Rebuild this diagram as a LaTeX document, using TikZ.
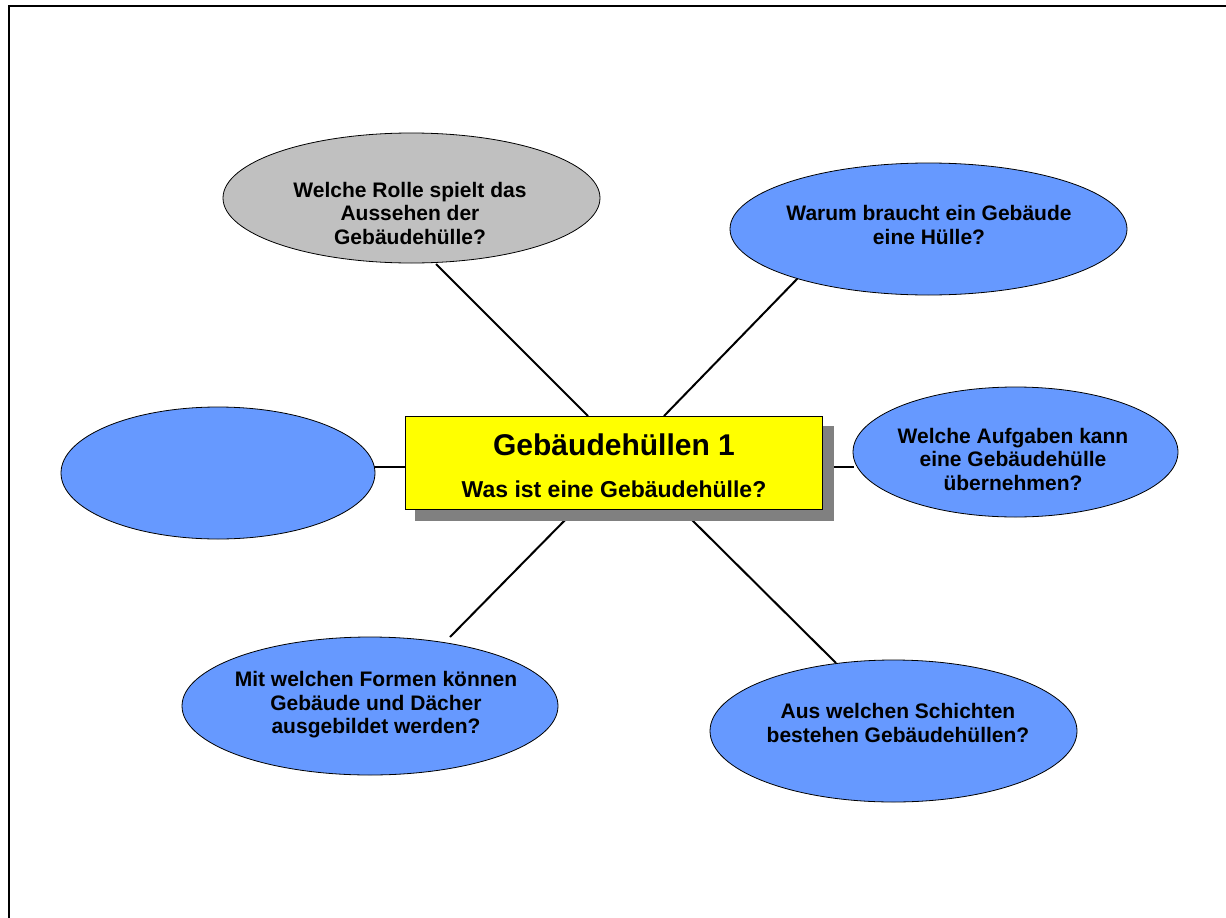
\documentclass[tikz,border=0pt]{standalone}
\usepackage{fontspec}
\setmainfont{Liberation Sans}
\usetikzlibrary{shapes.geometric}
\definecolor{bubble}{HTML}{6699FF}
\definecolor{greyb}{HTML}{C0C0C0}
\definecolor{shad}{HTML}{808080}
\definecolor{boxyellow}{HTML}{FFFF00}
\begin{document}
\begin{tikzpicture}[x=1pt,y=-1pt,
  bub/.style={ellipse,draw=black,line width=0.8pt,fill=bubble,inner sep=0pt},
  txt/.style={align=center,inner sep=0pt,font=\bfseries\fontsize{21}{23.5}\selectfont},
  conn/.style={line width=2pt,draw=black}]
\useasboundingbox (0,0) rectangle (1226,918);
\draw[line width=2.2pt] (9,918) -- (9,6) -- (1226,6);
% connector end points
\coordinate (ga) at (436,264); \coordinate (gb) at (588,416);
\coordinate (wa) at (798,278); \coordinate (wb) at (664,416);
\coordinate (la) at (374,467); \coordinate (lb) at (406,467);
\coordinate (ra) at (822,467); \coordinate (rb) at (854,467);
\coordinate (ma) at (570,515); \coordinate (mb) at (450,637);
\coordinate (sa) at (687,515); \coordinate (sb) at (836,663);
\draw[conn] (ga) -- (gb);
\draw[conn] (wa) -- (wb);
\draw[conn] (la) -- (lb);
\draw[conn] (ra) -- (rb);
\draw[conn] (ma) -- (mb);
\draw[conn] (sa) -- (sb);
% bubbles
\node[bub,fill=greyb,minimum width=377pt,minimum height=130pt] (grey) at (411.5,198) {};
\node[txt] (greyt) at (410,213) {Welche Rolle spielt das\\Aussehen der\\Gebäudehülle?};
\node[bub,minimum width=397pt,minimum height=132pt] (warum) at (928.5,229) {};
\node[txt] (warumt) at (929,225) {Warum braucht ein Gebäude\\eine Hülle?};
\node[bub,minimum width=314pt,minimum height=132pt] (left) at (218,473) {};
\node[bub,minimum width=325pt,minimum height=130pt] (right) at (1015.5,452) {};
\node[txt] (rightt) at (1013,459) {Welche Aufgaben kann\\eine Gebäudehülle\\übernehmen?};
\node[bub,minimum width=376pt,minimum height=138pt] (formen) at (370,706) {};
\node[txt] (forment) at (376,705) {Mit welchen Formen können\\Gebäude und Dächer\\ausgebildet werden?};
\node[bub,minimum width=367pt,minimum height=142pt] (schicht) at (893.5,731) {};
\node[txt] (schichtt) at (898,723) {Aus welchen Schichten\\bestehen Gebäudehüllen?};
% central box
\fill[shad] (415,426) rectangle (834,521);
\node[draw=black,line width=1.2pt,fill=boxyellow,minimum width=417pt,minimum height=93pt,inner sep=0pt] (box) at (614,463) {};
\node[anchor=base,inner sep=0pt,font=\bfseries\fontsize{30}{34}\selectfont] (title) at (614,455) {Gebäudehüllen 1};
\node[anchor=base,inner sep=0pt,font=\bfseries\fontsize{23}{26}\selectfont] (sub) at (614,497) {Was ist eine Gebäudehülle?};
\end{tikzpicture}
\end{document}
